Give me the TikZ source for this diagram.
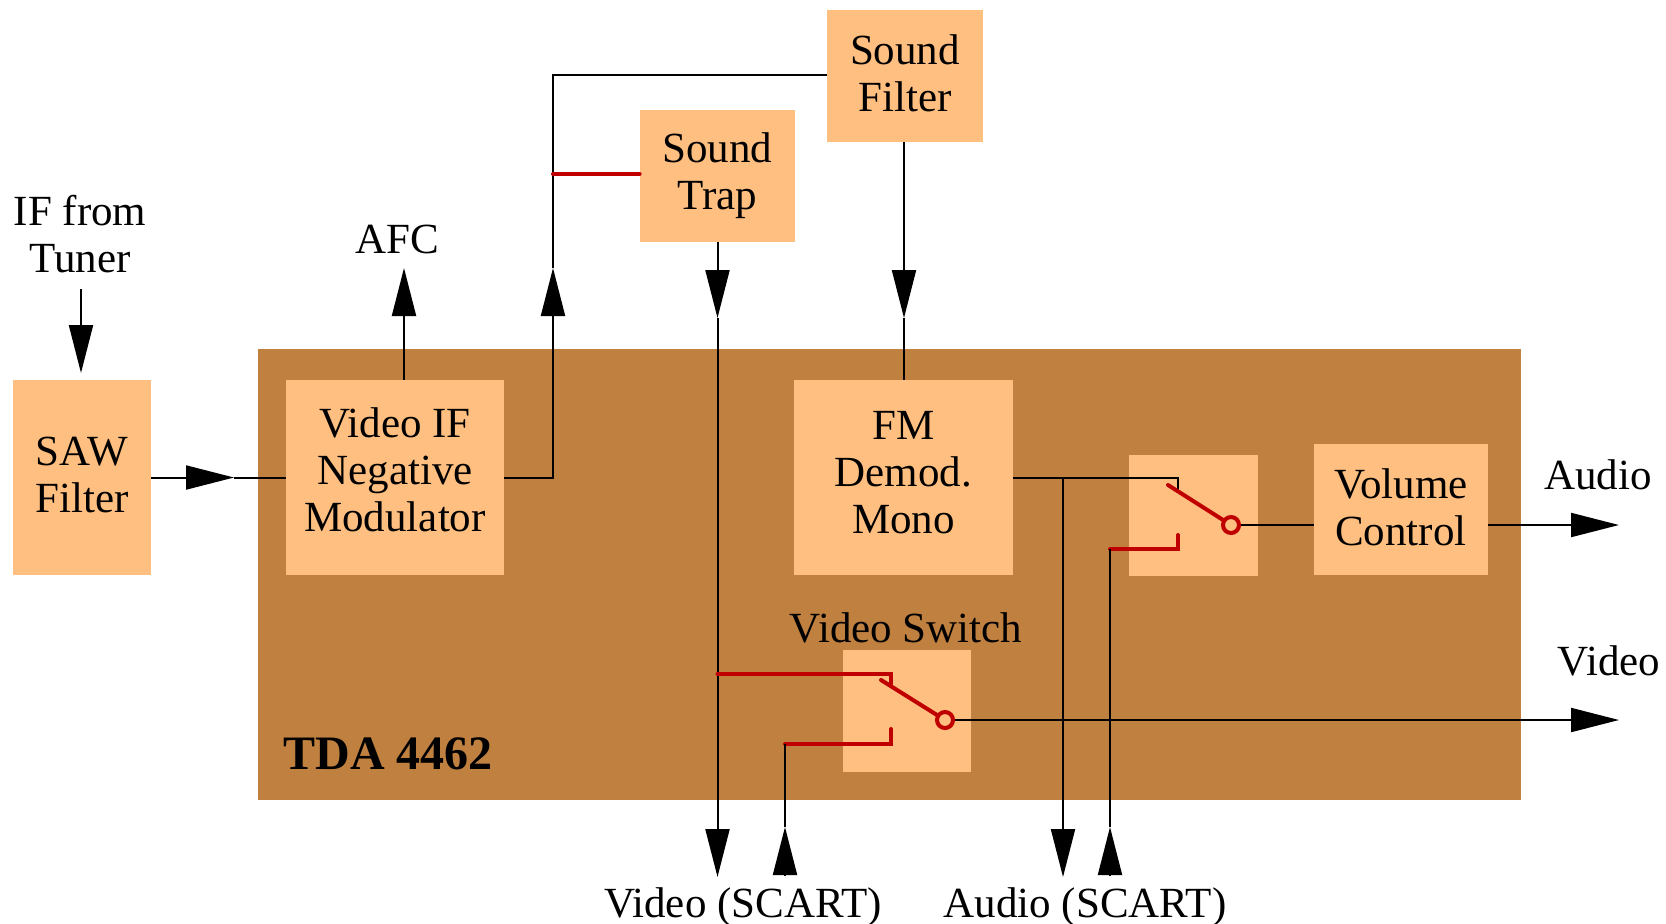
\documentclass[tikz,border=0pt]{standalone}
\usepackage{fontspec}
\setmainfont{Liberation Serif}
\usetikzlibrary{arrows.meta}
\definecolor{lorange}{HTML}{FFBF80}
\definecolor{chip}{HTML}{C08040}
\definecolor{swred}{HTML}{C00000}
\begin{document}
\begin{tikzpicture}[x=0.5pt,y=-0.5pt,
 blk/.style={fill=lorange, inner sep=0pt},
 txt/.style={inner sep=0pt, align=center, font=\fontsize{21.5}{23.5}\selectfont},
 lbl/.style={inner sep=0pt, font=\fontsize{21.5}{23.5}\selectfont, anchor=base},
 wire/.style={line width=1pt, draw=black},
 tipend/.style={-{Triangle[length=24pt,width=12pt]}},
 swl/.style={line width=2pt, draw=swred, line cap=round},
 pivot/.style={line width=2pt, draw=swred, fill=lorange},
]
\useasboundingbox (0,0) rectangle (1666,923);
% chip
\fill[chip] (258,349) rectangle (1521,800);
\node[lbl, font=\fontsize{24}{26}\selectfont\bfseries] (tda) at (388,769) {TDA 4462};
% blocks
\node[blk, minimum width=69pt, minimum height=97.5pt] (saw) at (82,477.5) {};
\node[blk, minimum width=109pt, minimum height=97.5pt] (vif) at (395,477.5) {};
\node[blk, minimum width=109.5pt, minimum height=97.5pt] (fm) at (903.5,477.5) {};
\node[blk, minimum width=77.5pt, minimum height=66pt] (st) at (717.5,176) {};
\node[blk, minimum width=78pt, minimum height=66pt] (sf) at (905,76) {};
\node[blk, minimum width=64.5pt, minimum height=60.5pt] (asw) at (1193.5,515.5) {};
\node[blk, minimum width=87pt, minimum height=65.5pt] (vol) at (1401,509.5) {};
\node[blk, minimum width=64pt, minimum height=61pt] (vsw) at (907,711) {};
% block texts
\node[txt, yshift=1.5pt] (sawt) at (saw.center) {SAW\\Filter};
\node[txt, yshift=4pt] (vift) at (vif.center) {Video IF\\Negative\\Modulator};
\node[txt, yshift=2.5pt] (fmt) at (fm.center) {FM\\Demod.\\Mono};
\node[txt] (stt) at (st.center) {Sound\\Trap};
\node[txt, yshift=1.5pt] (sft) at (sf.center) {Sound\\Filter};
\node[txt, yshift=1pt] (volt) at (vol.center) {Volume\\Control};
% labels
\node[lbl] (iflbl) at (80,225) {IF from};
\node[lbl] (tunlbl) at (80,272) {Tuner};
\node[lbl] (afc) at (397,253) {AFC};
\node[lbl] (audout) at (1598,489) {Audio};
\node[lbl] (vidout) at (1609,675) {Video};
\node[lbl] (vswlbl) at (906,642) {Video Switch};
\node[lbl] (vscart) at (743,917) {Video (SCART)};
\node[lbl] (ascart) at (1085,917) {Audio (SCART)};
% coordinates
\coordinate (iftop) at (81,289);
\coordinate (sawin) at (81,373);
\coordinate (sawtip) at (234,477.5);
\coordinate (afcb) at (404,380);
\coordinate (afct) at (404,268);
\coordinate (vifc) at (553,477.5);
\coordinate (vift2) at (553,268);
\coordinate (vifk) at (553,174);
\coordinate (viftop) at (553,75);
\coordinate (sttip) at (717.5,318);
\coordinate (stbot) at (717.5,877);
\coordinate (sftip) at (904,318);
% inputs
\draw[wire,tipend] (iftop) -- (sawin);
\draw[wire,tipend] (saw.east) -- (sawtip);
\draw[wire] (sawtip) -- (vif.west);
\draw[wire,tipend] (afcb) -- (afct);
\draw[wire,tipend] (vif.east) -- (vifc) -- (vift2);
\draw[wire] (vift2) -- (viftop) -- (sf.west |- viftop);
\draw[swl] (vifk) -- (st.west |- vifk);
\draw[wire,tipend] (st.south -| sttip) -- (sttip);
\draw[wire,tipend] (sttip) -- (stbot);
\draw[wire,tipend] (sf.south -| sftip) -- (sftip);
\draw[wire] (sftip) -- (fm.north -| sftip);
% video switch
\coordinate (vsa) at (717.5,674);
\coordinate (vsb) at (891,674);
\coordinate (vsc) at (891,684);
\coordinate (vsd) at (785,744);
\coordinate (vse) at (891,744);
\coordinate (vsf) at (891,729);
\coordinate (vslev) at (881,680);
\coordinate (vspiv) at (945,720);
\draw[swl] (vsa) -- (vsb) -- (vsc);
\draw[swl] (vsd) -- (vse) -- (vsf);
\draw[swl] (vslev) -- (vspiv);
\draw[wire,tipend] (785,875) -- (785,827);
\draw[wire] (785,827) -- (vsd);
\draw[wire,tipend] (vspiv) -- (1619,720);
\draw[pivot] (vspiv) circle (4pt);
% audio switch
\coordinate (fma) at (1178,478);
\coordinate (fmb) at (1178,492);
\coordinate (fmj) at (1063,478);
\coordinate (asd) at (1110,549);
\coordinate (ase) at (1178,549);
\coordinate (asf) at (1178,535);
\coordinate (aslev) at (1168,485);
\coordinate (aspiv) at (1231,525);
\draw[wire] (fm.east |- fma) -- (fma) -- (fmb);
\draw[wire,tipend] (fmj) -- (1063,877);
\draw[swl] (aslev) -- (aspiv);
\draw[swl] (asd) -- (ase) -- (asf);
\draw[wire,tipend] (1110,875) -- (1110,827);
\draw[wire] (1110,827) -- (asd);
\draw[wire] (aspiv) -- (vol.west |- aspiv);
\draw[wire,tipend] (vol.east |- aspiv) -- (1619,525);
\draw[pivot] (aspiv) circle (4pt);
\end{tikzpicture}
\end{document}
